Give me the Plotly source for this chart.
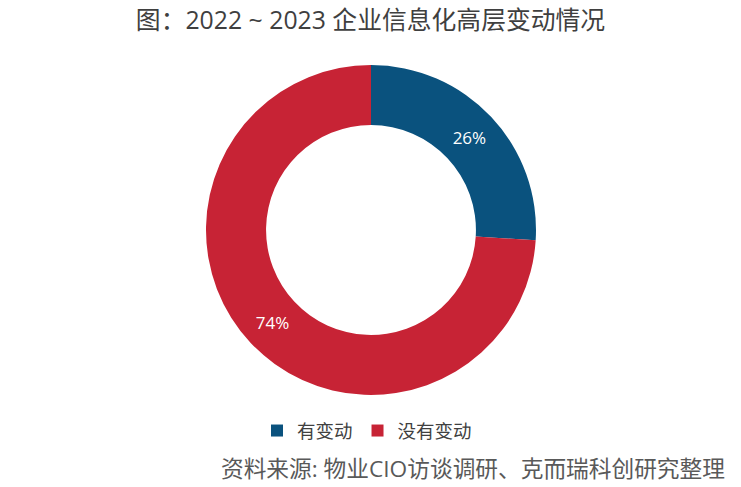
import plotly.graph_objects as go

labels = ["有变动", "没有变动"]
values = [26, 74]
colors = ["#0A527E", "#C72335"]

title_text = "图：2022 ~ 2023 企业信息化高层变动情况"
source_text = "资料来源: 物业CIO访谈调研、克而瑞科创研究整理"

W, H = 741, 487
cx, cy, R = 371, 230, 165

fig = go.Figure(go.Pie(
    labels=labels,
    values=values,
    marker=dict(colors=colors, line=dict(width=0)),
    hole=0.636,
    sort=False,
    direction="clockwise",
    rotation=0,
    textinfo="percent",
    texttemplate="%{percent:.0%}",
    textposition="inside",
    insidetextorientation="horizontal",
    textfont=dict(color="white", size=17, family="Open Sans"),
    domain=dict(x=[(cx - R) / W, (cx + R) / W], y=[1 - (cy + R) / H, 1 - (cy - R) / H]),
    hoverinfo="label+percent",
))

fig.update_layout(
    width=W, height=H,
    margin=dict(l=0, r=0, t=0, b=0),
    paper_bgcolor="white",
    plot_bgcolor="white",
    font=dict(family="Noto Sans CJK SC", color="#404040"),
    title=dict(text=title_text, x=0.5, xanchor="center", y=1 - 20 / H, yanchor="middle",
               font=dict(size=24.8, color="#3F3F3F", family="Open Sans, Noto Sans CJK SC")),
    legend=dict(orientation="h", x=367 / W, xanchor="center", y=1 - 431 / H, yanchor="middle",
                font=dict(size=18.5, color="#404040"), itemwidth=30, traceorder="normal"),
    annotations=[dict(text=source_text, x=727 / W, xanchor="right", y=1 - 468 / H, yanchor="middle",
                      xref="paper", yref="paper", showarrow=False,
                      font=dict(size=22.7, color="#595959", family="Open Sans, Noto Sans CJK SC"))],
)

fig.write_html("out.html", config={"displayModeBar": False},
               post_script="document.body.style.margin='0';document.body.style.padding='0';")
